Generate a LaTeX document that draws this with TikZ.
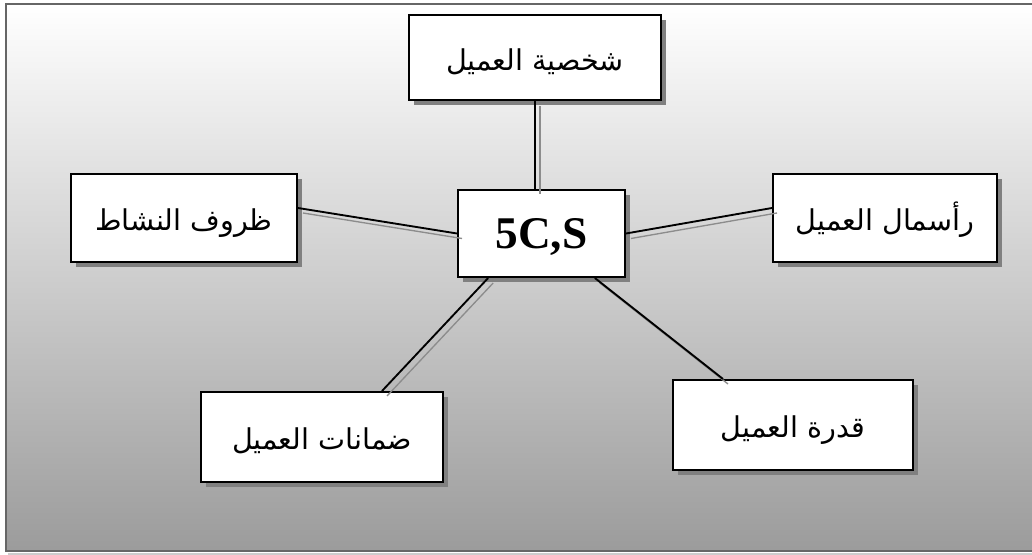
\documentclass[tikz,border=0pt]{standalone}
\usepackage{fontspec}
\usepackage{tikz}
\usetikzlibrary{shadows}
\newfontfamily\arabicfont[Script=Arabic]{DejaVu Sans}
\newfontfamily\latinfont{Liberation Serif}
\TeXXeTstate=1

\tikzset{
    box/.style={draw, line width=1.5pt, fill=white, inner sep=0pt, text height=24pt, text depth=5pt, drop shadow={shadow xshift=3.75pt, shadow yshift=-3.75pt, fill=black!50, opacity=1}, font=\arabicfont\fontsize{21.5}{26}\selectfont},
    link/.style={line width=1.4pt},
    linkshadow/.style={line width=1pt, black!45, transform canvas={xshift=3.75pt, yshift=-3.75pt}}
}

\begin{document}
\begin{tikzpicture}[x=0.75pt,y=-0.75pt]
        \useasboundingbox (0,0) rectangle (1032,555);
        \clip (0,0) rectangle (1032,555);
        \draw[black!20, line width=1pt] (8,554) -- (1040,554);
        \shade[top color=white, bottom color=black!39, draw=black!60, line width=1.8pt] (6,4) rectangle (1045,551);
        \node[box, minimum width=189pt, minimum height=63.75pt] (person) at (535,58) {\beginR شخصية العميل\endR};
        \node[box, minimum width=125.25pt, minimum height=65.25pt, text height=23pt, text depth=0pt, font=\latinfont\fontsize{34}{40}\selectfont\bfseries] (fivec) at (541.5,233.5) {5C,S};
        \node[box, minimum width=169.5pt, minimum height=66pt] (activity) at (184,218) {\beginR ظروف النشاط\endR};
        \node[box, minimum width=168pt, minimum height=66pt] (capital) at (885,218) {\beginR رأسمال العميل\endR};
        \node[box, minimum width=181.5pt, minimum height=67.5pt] (guarantee) at (322,437) {\beginR ضمانات العميل\endR};
        \node[box, minimum width=180pt, minimum height=67.5pt] (capacity) at (793,425) {\beginR قدرة العميل\endR};
        \draw[linkshadow] (person.south) -- (person.south |- fivec.north);
        \draw[link] (person.south) -- (person.south |- fivec.north);
        \draw[linkshadow] ([yshift=7.5pt]activity.east) -- (fivec.west);
        \draw[link] ([yshift=7.5pt]activity.east) -- (fivec.west);
        \draw[linkshadow] (fivec.east) -- ([yshift=7.5pt]capital.west);
        \draw[link] (fivec.east) -- ([yshift=7.5pt]capital.west);
        \draw[linkshadow] ([xshift=-40pt]fivec.south) -- ([xshift=45pt]guarantee.north);
        \draw[link] ([xshift=-40pt]fivec.south) -- ([xshift=45pt]guarantee.north);
        \draw[linkshadow] ([xshift=40pt]fivec.south) -- ([xshift=-52.5pt]capacity.north);
        \draw[link] ([xshift=40pt]fivec.south) -- ([xshift=-52.5pt]capacity.north);
    \end{tikzpicture}
\end{document}
